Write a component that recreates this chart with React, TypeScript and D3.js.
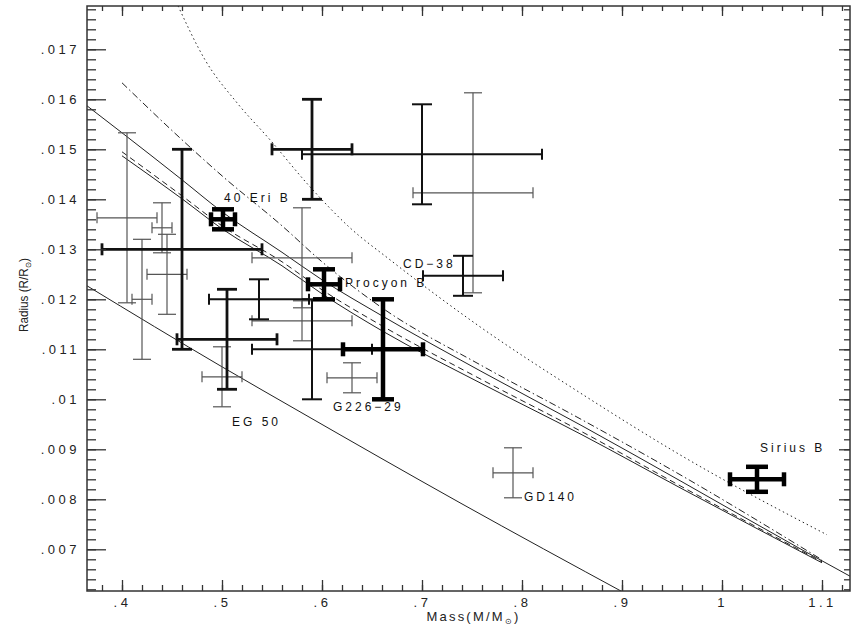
import * as d3 from "d3";
import { useEffect, useRef } from "react";

const W = 851;
const H = 629;
const L = 87, R = 850, T = 6, B = 591;

// axis ticks
const xTicks = [0.4, 0.5, 0.6, 0.7, 0.8, 0.9, 1.0, 1.1];
const xTickLabels = [".4", ".5", ".6", ".7", ".8", ".9", "1", "1.1"];
const yTicks = [0.007, 0.008, 0.009, 0.01, 0.011, 0.012, 0.013, 0.014, 0.015, 0.016, 0.017];
const yTickLabels = [".007", ".008", ".009", ".01", ".011", ".012", ".013", ".014", ".015", ".016", ".017"];

// model mass-radius curves
const solidMass = [0.365, 0.4, 0.46, 0.5, 0.56, 0.6, 0.66, 0.76, 0.86, 0.96, 1.08, 1.13];
const solidRadius = [0.01587, 0.01533, 0.01439, 0.01375, 0.01294, 0.01239, 0.01167, 0.01055, 0.00947, 0.00835, 0.00699, 0.00644];

const dashedMass = [0.4, 0.46, 0.5, 0.56, 0.6, 0.66, 0.76, 0.86, 0.96, 1.1];
const dashedRadius = [0.01495, 0.01407, 0.01347, 0.01275, 0.01219, 0.01147, 0.01039, 0.00935, 0.00825, 0.00675];

const solid2Mass = [0.4, 0.46, 0.5, 0.56, 0.6, 0.66, 0.76, 0.86, 0.96, 1.1];
const solid2Radius = [0.01487, 0.01401, 0.01341, 0.01267, 0.01211, 0.01137, 0.01031, 0.00929, 0.00821, 0.00673];

const dashDotMass = [0.4, 0.46, 0.5, 0.56, 0.6, 0.66, 0.76, 0.86, 0.96, 1.1];
const dashDotRadius = [0.01633, 0.01519, 0.01447, 0.01347, 0.01275, 0.01183, 0.01067, 0.00959, 0.00847, 0.00679];

const lowMass = [0.365, 0.5, 0.578, 0.738, 0.905];
const lowRadius = [0.01227, 0.01065, 0.00975, 0.00793, 0.0061];

const dottedMass = [0.456, 0.483, 0.515, 0.548, 0.588, 0.628, 0.668, 0.758, 0.858, 0.958, 1.105];
const dottedRadius = [0.01787, 0.01679, 0.01593, 0.01519, 0.01425, 0.01343, 0.01279, 0.01145, 0.01013, 0.00889, 0.00729];

// observed white dwarfs (mass, mass error, radius, radius error)
const heavyBars = [
  { m: 0.501, dm: 0.012, r: 0.0136, dr: 0.0002 },   // 40 Eri B
  { m: 0.602, dm: 0.016, r: 0.0123, dr: 0.0003 },   // Procyon B
  { m: 0.661, dm: 0.04, r: 0.011, dr: 0.001 },      // G226-29
  { m: 1.035, dm: 0.027, r: 0.0084, dr: 0.00025 },  // Sirius B
];
const boldBars = [
  { m: 0.59, dm: 0.04, r: 0.015, dr: 0.001 },
  { m: 0.46, dm: 0.08, r: 0.013, dr: 0.002 },
  { m: 0.505, dm: 0.05, r: 0.0112, dr: 0.001 },
];
const blackBars = [
  { m: 0.7, dm: 0.12, r: 0.0149, dr: 0.001 },
  { m: 0.537, dm: 0.05, r: 0.012, dr: 0.0004 },
  { m: 0.59, dm: 0.06, r: 0.011, dr: 0.001 },
  { m: 0.741, dm: 0.04, r: 0.01247, dr: 0.0004 },   // CD-38
];
const greyBars = [
  { m: 0.751, dm: 0.06, r: 0.01413, dr: 0.002 },
  { m: 0.405, dm: 0.03, r: 0.01363, dr: 0.0017 },
  { m: 0.42, dm: 0.01, r: 0.012, dr: 0.0012 },
  { m: 0.44, dm: 0.01, r: 0.01343, dr: 0.0005 },
  { m: 0.445, dm: 0.02, r: 0.0125, dr: 0.0008 },
  { m: 0.58, dm: 0.05, r: 0.01283, dr: 0.001 },
  { m: 0.58, dm: 0.05, r: 0.01157, dr: 0.0004 },
  { m: 0.63, dm: 0.025, r: 0.01043, dr: 0.0003 },
  { m: 0.5, dm: 0.02, r: 0.01045, dr: 0.0006 },     // EG 50
  { m: 0.791, dm: 0.02, r: 0.00853, dr: 0.0005 },   // GD140
];

const starNames = ["40 Eri B", "Procyon B", "CD\u221238", "G226\u221229", "EG 50", "GD140", "Sirius B"];
const starLabelMass = [0.502, 0.623, 0.681, 0.611, 0.51, 0.802, 1.038];
const starLabelRadius = [0.01403, 0.01233, 0.01271, 0.00985, 0.00955, 0.00805, 0.00903];

const FONT = "'Liberation Sans', Arial, Helvetica, sans-serif";

const redraw = (el: SVGSVGElement) => {
  const svg = d3.select(el);
  svg.selectAll("*").remove();

  const x = d3.scaleLinear().domain([0.365, 1.128]).range([L, R]);
  const y = d3.scaleLinear().domain([0.006166, 0.017866]).range([B, T]);

  svg.append("defs").append("clipPath").attr("id", "plot-clip")
    .append("rect").attr("x", L).attr("y", T).attr("width", R - L).attr("height", B - T);

  // curves
  const line = d3.line<[number, number]>()
    .curve(d3.curveMonotoneX)
    .x(d => x(d[0]))
    .y(d => y(d[1]));

  const curves = [
    { m: solidMass, r: solidRadius, dash: null },
    { m: solid2Mass, r: solid2Radius, dash: null },
    { m: dashedMass, r: dashedRadius, dash: "6,4" },
    { m: dashDotMass, r: dashDotRadius, dash: "7,3,1.5,3" },
    { m: lowMass, r: lowRadius, dash: null },
    { m: dottedMass, r: dottedRadius, dash: "1.5,3" },
  ];
  const cg = svg.append("g").attr("clip-path", "url(#plot-clip)");
  curves.forEach(c => {
    const pts = c.m.map((m, i) => [m, c.r[i]] as [number, number]);
    cg.append("path")
      .attr("d", line(pts))
      .attr("fill", "none")
      .attr("stroke", "#222")
      .attr("stroke-width", 1)
      .attr("stroke-dasharray", c.dash);
  });

  // error bars
  const drawBars = (data, color, width, capW, capH) => {
    const g = svg.append("g").attr("stroke", color).attr("stroke-width", width).attr("fill", "none");
    data.forEach(d => {
      const cx = x(d.m), cy = y(d.r);
      const x1 = x(d.m - d.dm), x2 = x(d.m + d.dm);
      const y1 = y(d.r + d.dr), y2 = y(d.r - d.dr);
      const segs = [
        [cx, y1, cx, y2],
        [cx - capW, y1, cx + capW, y1],
        [cx - capW, y2, cx + capW, y2],
        [x1, cy, x2, cy],
        [x1, cy - capH, x1, cy + capH],
        [x2, cy - capH, x2, cy + capH],
      ];
      segs.forEach(s => {
        g.append("line").attr("x1", s[0]).attr("y1", s[1]).attr("x2", s[2]).attr("y2", s[3]);
      });
    });
  };
  drawBars(greyBars, "#555", 1.2, 9, 5.5);
  drawBars(blackBars, "#111", 2, 10, 5.5);
  drawBars(boldBars, "#111", 2.8, 10, 6);
  drawBars(heavyBars, "#000", 4.5, 11, 7);

  // star labels
  svg.append("g").selectAll("text").data(starNames).join("text")
    .attr("x", (d, i) => x(starLabelMass[i]))
    .attr("y", (d, i) => y(starLabelRadius[i]))
    .attr("dy", "0.35em")
    .attr("font-family", FONT)
    .attr("font-size", 12)
    .attr("letter-spacing", 3)
    .attr("fill", "#111")
    .text(d => d);

  // axes
  const minorX = d3.range(0.38, 1.121, 0.02);
  const minorY = d3.range(0.0062, 0.01781, 0.0002);
  const styleAxis = (g) => {
    g.select(".domain").remove();
    g.selectAll("line").attr("stroke", "#333").attr("stroke-width", 1.3);
    g.selectAll("text").attr("font-family", FONT).attr("font-size", 13)
      .attr("letter-spacing", 3.5).attr("fill", "#222");
  };

  svg.append("g").attr("transform", `translate(0,${B})`)
    .call(d3.axisBottom(x).tickValues(minorX).tickSize(-6).tickFormat(() => ""))
    .call(styleAxis);
  svg.append("g").attr("transform", `translate(0,${B})`)
    .call(d3.axisBottom(x).tickValues(xTicks).tickSize(-11).tickPadding(7)
      .tickFormat((d, i) => xTickLabels[i]))
    .call(styleAxis);
  svg.append("g").attr("transform", `translate(0,${T})`)
    .call(d3.axisTop(x).tickValues(minorX).tickSize(-5).tickFormat(() => ""))
    .call(styleAxis);
  svg.append("g").attr("transform", `translate(0,${T})`)
    .call(d3.axisTop(x).tickValues(xTicks).tickSize(-10).tickFormat(() => ""))
    .call(styleAxis);

  svg.append("g").attr("transform", `translate(${L},0)`)
    .call(d3.axisLeft(y).tickValues(minorY).tickSize(-9).tickFormat(() => ""))
    .call(styleAxis);
  svg.append("g").attr("transform", `translate(${L},0)`)
    .call(d3.axisLeft(y).tickValues(yTicks).tickSize(-19).tickPadding(7)
      .tickFormat((d, i) => yTickLabels[i]))
    .call(styleAxis);
  svg.append("g").attr("transform", `translate(${R},0)`)
    .call(d3.axisRight(y).tickValues(minorY).tickSize(-6).tickFormat(() => ""))
    .call(styleAxis);
  svg.append("g").attr("transform", `translate(${R},0)`)
    .call(d3.axisRight(y).tickValues(yTicks).tickSize(-11).tickFormat(() => ""))
    .call(styleAxis);

  // frame
  svg.append("rect")
    .attr("x", L).attr("y", T).attr("width", R - L).attr("height", B - T)
    .attr("fill", "none").attr("stroke", "#333").attr("stroke-width", 1.5);

  // axis titles
  const xt = svg.append("text")
    .attr("x", (L + R) / 2 + 5).attr("y", 621)
    .attr("text-anchor", "middle")
    .attr("font-family", FONT).attr("font-size", 13).attr("letter-spacing", 2.2)
    .attr("fill", "#222");
  xt.append("tspan").text("Mass(M/M");
  xt.append("tspan").attr("font-size", 8).attr("dy", 3).text("\u2299");
  xt.append("tspan").attr("dy", -3).text(")");

  const yt = svg.append("text")
    .attr("transform", "translate(28,295) rotate(-90)")
    .attr("text-anchor", "middle")
    .attr("font-family", FONT).attr("font-size", 13)
    .attr("textLength", 74).attr("lengthAdjust", "spacingAndGlyphs")
    .attr("fill", "#222");
  yt.append("tspan").text("Radius (R/R");
  yt.append("tspan").attr("font-size", 8).attr("dy", 3).text("\u2299");
  yt.append("tspan").attr("dy", -3).text(")");
};

export default function App() {
  const ref = useRef<SVGSVGElement>(null);
  useEffect(() => {
    if (ref.current) redraw(ref.current);
  }, []);
  return (
    <svg ref={ref} width={W} height={H}
      style={{ position: "absolute", left: 0, top: 0, background: "#fff" }} />
  );
}
